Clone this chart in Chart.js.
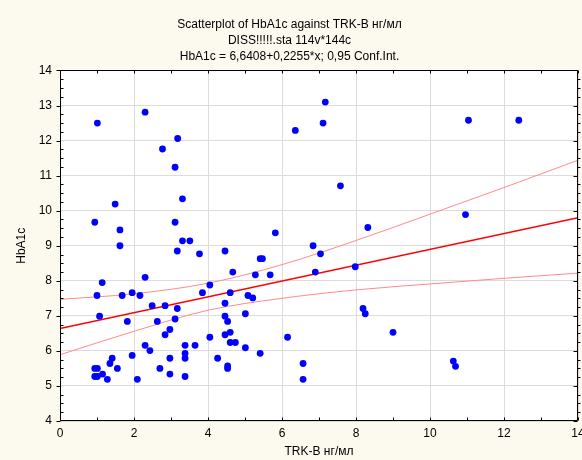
<!DOCTYPE html>
<html>
<head>
<meta charset="utf-8">
<script src="https://cdn.jsdelivr.net/npm/chart.js@4.4.1/dist/chart.umd.min.js"></script>
<style>
  html, body { margin: 0; padding: 0; background: #fcf9ef; }
  #wrap { width: 582px; height: 460px; }
</style>
</head>
<body>
<div id="wrap"><canvas id="chartScatter" width="582" height="460"></canvas></div>
<script>
// Datos
const trkX = [
  2.30, 1.01, 3.18, 2.77, 3.11, 3.31, 1.49, 0.94, 3.11, 1.62,
  1.62, 3.31, 3.51, 3.17, 3.77, 1.14, 2.30, 1.00, 1.68, 1.95,
  2.16, 3.85, 2.49, 2.84, 3.17, 1.07, 1.82, 2.63, 3.11, 2.97,
  2.84, 2.30, 2.43, 3.38, 3.65, 3.38, 3.38, 1.95, 2.97, 1.41,
  1.35, 0.94, 1.01, 1.55, 2.70, 0.94, 1.01, 1.15, 1.28, 2.09,
  2.97, 3.38, 7.17, 7.11, 6.36, 7.58, 5.82, 8.32, 6.84, 4.46,
  7.04, 4.67, 5.41, 5.47, 5.28, 5.68, 6.90, 7.98, 4.05, 4.60,
  5.08, 5.21, 4.46, 8.19, 8.25, 4.46, 4.53, 5.01, 4.05, 4.60,
  4.46, 4.60, 4.74, 5.01, 6.15, 5.41, 4.26, 4.53, 4.53, 6.57,
  6.57, 11.04, 12.40, 10.96, 9.00, 10.63, 10.69
];
const hba1cY = [
  12.81, 12.50, 12.06, 11.76, 11.24, 10.34, 10.19, 9.67, 9.67, 9.45,
  9.00, 9.14, 9.14, 8.85, 8.77, 7.95, 8.10, 7.58, 7.58, 7.66,
  7.58, 7.66, 7.29, 7.29, 7.21, 6.99, 6.84, 6.84, 6.91, 6.61,
  6.46, 6.16, 6.01, 6.16, 6.16, 5.93, 5.79, 5.87, 5.79, 5.79,
  5.64, 5.50, 5.50, 5.50, 5.50, 5.27, 5.27, 5.34, 5.19, 5.19,
  5.34, 5.27, 13.10, 12.50, 12.29, 10.71, 9.37, 9.52, 9.00, 8.85,
  8.77, 8.25, 8.63, 8.63, 8.17, 8.17, 8.25, 8.40, 7.88, 7.66,
  7.58, 7.51, 7.36, 7.21, 7.06, 6.99, 6.84, 7.06, 6.39, 6.53,
  6.46, 6.24, 6.24, 6.09, 6.39, 5.93, 5.79, 5.57, 5.50, 5.64,
  5.19, 12.58, 12.58, 9.89, 6.53, 5.71, 5.56
];

// Recta de regresión y bandas de confianza 0,95
const regX = [0, 14];
const regY = [6.64, 9.80];
const bandX = [0, 2, 4, 6, 8, 10, 12, 14];
const bandUpper = [7.47, 7.63, 7.93, 8.46, 9.15, 9.90, 10.66, 11.44];
const bandLower = [5.89, 6.56, 7.16, 7.50, 7.74, 7.91, 8.07, 8.22];

const xTicks = [0, 2, 4, 6, 8, 10, 12, 14];
const yTicks = [4, 5, 6, 7, 8, 9, 10, 11, 12, 13, 14];

const titleLines = [
  "Scatterplot of HbA1c against TRK-B нг/мл",
  "DISS!!!!!.sta 114v*144c",
  "HbA1c = 6,6408+0,2255*x; 0,95 Conf.Int."
];
const xLabel = "TRK-B нг/мл";
const yLabel = "HbA1c";

const FONT = "'Liberation Sans', Arial, sans-serif";
const toPoints = (xs, ys) => xs.map((x, i) => ({ x, y: ys[i] }));

// Fondo crema, área blanca y marco con marcas
const framePlugin = {
  id: "frame",
  beforeDraw(chart) {
    const { ctx, chartArea: a } = chart;
    ctx.save();
    ctx.fillStyle = "#fcf9ef";
    ctx.fillRect(0, 0, chart.width, chart.height);
    ctx.fillStyle = "#ffffff";
    ctx.fillRect(a.left, a.top, a.right - a.left, a.bottom - a.top);
    ctx.restore();
  },
  afterDraw(chart) {
    const { ctx, chartArea: a, scales } = chart;
    const L = Math.round(a.left) + 0.5, R = Math.round(a.right) - 0.5;
    const T = Math.round(a.top) + 0.5, B = Math.round(a.bottom) - 0.5;
    ctx.save();
    ctx.strokeStyle = "#000";
    ctx.lineWidth = 1;
    ctx.beginPath();
    ctx.rect(L, T, R - L, B - T);
    // marcas eje Y (cada 0,25)
    for (let v = yTicks[0]; v <= yTicks[yTicks.length - 1] + 1e-9; v += 0.25) {
      const py = Math.round(scales.y.getPixelForValue(v)) + 0.5;
      const major = Math.abs(v - Math.round(v)) < 1e-9;
      if (major) {
        ctx.moveTo(L - 4, py); ctx.lineTo(L, py);
        ctx.moveTo(R - 4, py); ctx.lineTo(R, py);
      } else {
        ctx.moveTo(L, py); ctx.lineTo(L + 3, py);
        ctx.moveTo(R, py); ctx.lineTo(R + 3, py);
      }
    }
    // marcas eje X (cada unidad)
    for (let v = xTicks[0]; v <= xTicks[xTicks.length - 1]; v += 1) {
      const px = Math.round(scales.x.getPixelForValue(v)) + 0.5;
      ctx.moveTo(px, T); ctx.lineTo(px, T + 3);
      ctx.moveTo(px, B); ctx.lineTo(px, B - 3);
    }
    ctx.stroke();
    ctx.restore();
  },
};

const renderScatter = () => {
  const canvas = document.getElementById("chartScatter");
  new Chart(canvas.getContext("2d"), {
    type: "scatter",
    data: {
      datasets: [
        {
          label: "HbA1c",
          data: toPoints(trkX, hba1cY),
          backgroundColor: "#0000ff",
          borderColor: "#0000ff",
          borderWidth: 0,
          pointRadius: 3.4,
        },
        {
          type: "line",
          label: "Regresión",
          data: toPoints(regX, regY),
          borderColor: "#ff0000",
          borderWidth: 1.4,
          pointRadius: 0,
          fill: false,
        },
        {
          type: "line",
          label: "Límite superior",
          data: toPoints(bandX, bandUpper),
          borderColor: "#ff8a8a",
          borderWidth: 1,
          pointRadius: 0,
          cubicInterpolationMode: "monotone",
          fill: false,
        },
        {
          type: "line",
          label: "Límite inferior",
          data: toPoints(bandX, bandLower),
          borderColor: "#ff8a8a",
          borderWidth: 1,
          pointRadius: 0,
          cubicInterpolationMode: "monotone",
          fill: false,
        },
      ],
    },
    options: {
      responsive: false,
      animation: false,
      layout: { padding: { left: 0, right: 3, top: 0, bottom: 0 } },
      plugins: {
        legend: { display: false },
        tooltip: { enabled: false },
        title: {
          display: true,
          text: titleLines,
          color: "#000",
          font: { family: FONT, size: 12, weight: "normal", lineHeight: 1.333 },
          padding: { top: 16.5, bottom: 6 },
        },
      },
      scales: {
        x: {
          type: "linear",
          min: 0,
          max: 14,
          afterBuildTicks: (s) => { s.ticks = xTicks.map((v) => ({ value: v })); },
          afterFit: (s) => { s.height = 39; s.paddingLeft = 0; s.paddingRight = 0; },
          grid: { color: "#dcdcdc", drawTicks: false },
          border: { display: false },
          ticks: { color: "#000", padding: 5, maxRotation: 0, font: { family: FONT, size: 12 } },
          title: {
            display: true,
            text: xLabel,
            color: "#000",
            font: { family: FONT, size: 12, lineHeight: 1.2 },
            padding: { top: 0, bottom: 0.8 },
          },
        },
        y: {
          type: "linear",
          min: 4,
          max: 14,
          afterBuildTicks: (s) => { s.ticks = yTicks.map((v) => ({ value: v })); },
          afterFit: (s) => { s.width = 60; s.paddingTop = 0; s.paddingBottom = 0; },
          grid: { color: "#dcdcdc", drawTicks: false },
          border: { display: false },
          ticks: { color: "#000", padding: 8, font: { family: FONT, size: 12 } },
          title: {
            display: true,
            text: yLabel,
            color: "#000",
            font: { family: FONT, size: 12, lineHeight: 1.2 },
            padding: { top: 14, bottom: 0 },
          },
        },
      },
    },
    plugins: [framePlugin],
  });
};

renderScatter();
</script>
</body>
</html>
